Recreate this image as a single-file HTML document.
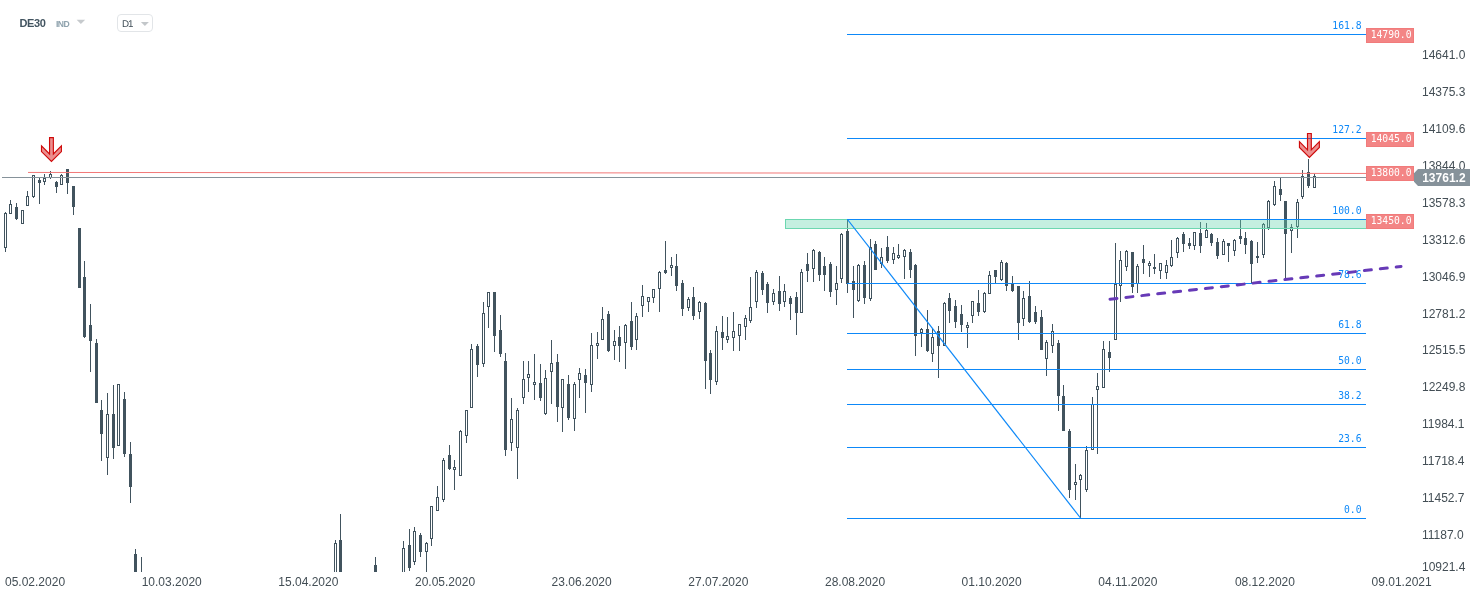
<!DOCTYPE html>
<html><head><meta charset="utf-8"><title>DE30 D1</title>
<style>
html,body{margin:0;padding:0;background:#fff;}
body{width:1482px;height:598px;overflow:hidden;position:relative;font-family:"Liberation Sans",Arial,sans-serif;}
#chart{position:absolute;left:0;top:0;will-change:transform;}
.tf{position:absolute;left:117px;top:14px;width:34px;height:16px;border:1px solid #e2e5e8;border-radius:4px;}
</style></head>
<body>
<svg id="chart" width="1482" height="598" viewBox="0 0 1482 598">
<defs><clipPath id="plot"><rect x="0" y="0" width="1366" height="572"/></clipPath></defs>
<g clip-path="url(#plot)" fill="#41535e" shape-rendering="crispEdges">
<rect x="5" y="212" width="1" height="1"/>
<rect x="5" y="248" width="1" height="4"/>
<path d="M4 213h3v35h-3zM5 214v33h1v-33z" fill-rule="evenodd"/>
<rect x="10" y="200" width="1" height="4"/>
<path d="M9 204h3v10h-3zM10 205v8h1v-8z" fill-rule="evenodd"/>
<rect x="16" y="203" width="1" height="4"/>
<rect x="16" y="219" width="1" height="1"/>
<rect x="15" y="207" width="3" height="12"/>
<path d="M21 210h3v14h-3zM22 211v12h1v-12z" fill-rule="evenodd"/>
<rect x="27" y="191" width="1" height="5"/>
<path d="M26 196h3v10h-3zM27 197v8h1v-8z" fill-rule="evenodd"/>
<rect x="33" y="197" width="1" height="1"/>
<path d="M32 175h3v22h-3zM33 176v20h1v-20z" fill-rule="evenodd"/>
<rect x="39" y="178" width="1" height="2"/>
<rect x="39" y="183" width="1" height="21"/>
<rect x="38" y="180" width="3" height="3"/>
<rect x="44" y="174" width="1" height="4"/>
<rect x="44" y="182" width="1" height="3"/>
<path d="M43 178h3v4h-3zM44 179v2h1v-2z" fill-rule="evenodd"/>
<rect x="50" y="171" width="1" height="3"/>
<rect x="50" y="178" width="1" height="1"/>
<path d="M49 174h3v4h-3zM50 175v2h1v-2z" fill-rule="evenodd"/>
<rect x="56" y="181" width="1" height="1"/>
<rect x="56" y="187" width="1" height="6"/>
<rect x="55" y="182" width="3" height="5"/>
<rect x="61" y="174" width="1" height="1"/>
<path d="M60 175h3v10h-3zM61 176v8h1v-8z" fill-rule="evenodd"/>
<rect x="67" y="183" width="1" height="11"/>
<rect x="66" y="169" width="3" height="14"/>
<rect x="73" y="207" width="1" height="8"/>
<rect x="72" y="186" width="3" height="21"/>
<rect x="78" y="228" width="3" height="60"/>
<rect x="84" y="261" width="1" height="16"/>
<rect x="84" y="337" width="1" height="1"/>
<rect x="83" y="277" width="3" height="60"/>
<rect x="90" y="304" width="1" height="21"/>
<rect x="90" y="341" width="1" height="31"/>
<rect x="89" y="325" width="3" height="16"/>
<rect x="96" y="339" width="1" height="4"/>
<rect x="95" y="343" width="3" height="60"/>
<rect x="101" y="400" width="1" height="10"/>
<rect x="101" y="434" width="1" height="27"/>
<rect x="100" y="410" width="3" height="24"/>
<rect x="107" y="393" width="1" height="21"/>
<rect x="107" y="458" width="1" height="17"/>
<path d="M106 414h3v44h-3zM107 415v42h1v-42z" fill-rule="evenodd"/>
<rect x="113" y="385" width="1" height="29"/>
<rect x="113" y="448" width="1" height="11"/>
<rect x="112" y="414" width="3" height="34"/>
<path d="M117 384h3v62h-3zM118 385v60h1v-60z" fill-rule="evenodd"/>
<rect x="124" y="392" width="1" height="7"/>
<rect x="124" y="454" width="1" height="3"/>
<rect x="123" y="399" width="3" height="55"/>
<rect x="130" y="442" width="1" height="12"/>
<rect x="130" y="487" width="1" height="16"/>
<rect x="129" y="454" width="3" height="33"/>
<rect x="135" y="549" width="1" height="5"/>
<rect x="134" y="554" width="3" height="26"/>
<rect x="141" y="557" width="1" height="43"/>
<rect x="140" y="600" width="3" height="1"/>
<rect x="335" y="540" width="1" height="3"/>
<path d="M334 543h3v37h-3zM335 544v35h1v-35z" fill-rule="evenodd"/>
<rect x="340" y="514" width="1" height="26"/>
<rect x="339" y="540" width="3" height="40"/>
<rect x="375" y="557" width="1" height="8"/>
<rect x="374" y="565" width="3" height="15"/>
<rect x="403" y="541" width="1" height="7"/>
<path d="M402 548h3v32h-3zM403 549v30h1v-30z" fill-rule="evenodd"/>
<rect x="409" y="529" width="1" height="16"/>
<rect x="409" y="568" width="1" height="3"/>
<rect x="408" y="545" width="3" height="23"/>
<rect x="414" y="527" width="1" height="4"/>
<rect x="414" y="562" width="1" height="3"/>
<path d="M413 531h3v31h-3zM414 532v29h1v-29z" fill-rule="evenodd"/>
<rect x="420" y="533" width="1" height="2"/>
<rect x="420" y="552" width="1" height="5"/>
<rect x="419" y="535" width="3" height="17"/>
<rect x="426" y="542" width="1" height="1"/>
<rect x="426" y="552" width="1" height="20"/>
<path d="M425 543h3v9h-3zM426 544v7h1v-7z" fill-rule="evenodd"/>
<rect x="431" y="539" width="1" height="7"/>
<path d="M430 506h3v33h-3zM431 507v31h1v-31z" fill-rule="evenodd"/>
<rect x="437" y="486" width="1" height="11"/>
<path d="M436 497h3v14h-3zM437 498v12h1v-12z" fill-rule="evenodd"/>
<rect x="443" y="458" width="1" height="2"/>
<rect x="443" y="500" width="1" height="2"/>
<path d="M442 460h3v40h-3zM443 461v38h1v-38z" fill-rule="evenodd"/>
<rect x="449" y="445" width="1" height="10"/>
<rect x="449" y="469" width="1" height="1"/>
<rect x="448" y="455" width="3" height="14"/>
<rect x="454" y="460" width="1" height="7"/>
<rect x="454" y="470" width="1" height="20"/>
<path d="M453 467h3v3h-3zM454 468v1h1v-1z" fill-rule="evenodd"/>
<rect x="460" y="430" width="1" height="1"/>
<path d="M459 431h3v45h-3zM460 432v43h1v-43z" fill-rule="evenodd"/>
<rect x="466" y="436" width="1" height="7"/>
<path d="M465 410h3v26h-3zM466 411v24h1v-24z" fill-rule="evenodd"/>
<rect x="471" y="344" width="1" height="5"/>
<path d="M470 349h3v59h-3zM471 350v57h1v-57z" fill-rule="evenodd"/>
<rect x="477" y="344" width="1" height="2"/>
<rect x="477" y="365" width="1" height="12"/>
<rect x="476" y="346" width="3" height="19"/>
<rect x="483" y="302" width="1" height="11"/>
<rect x="483" y="364" width="1" height="3"/>
<path d="M482 313h3v51h-3zM483 314v49h1v-49z" fill-rule="evenodd"/>
<rect x="488" y="307" width="1" height="21"/>
<path d="M487 292h3v15h-3zM488 293v13h1v-13z" fill-rule="evenodd"/>
<rect x="494" y="336" width="1" height="16"/>
<rect x="493" y="292" width="3" height="44"/>
<rect x="500" y="315" width="1" height="15"/>
<rect x="500" y="354" width="1" height="3"/>
<rect x="499" y="330" width="3" height="24"/>
<rect x="505" y="353" width="1" height="8"/>
<rect x="505" y="450" width="1" height="6"/>
<rect x="504" y="361" width="3" height="89"/>
<rect x="511" y="398" width="1" height="21"/>
<rect x="511" y="443" width="1" height="8"/>
<path d="M510 419h3v24h-3zM511 420v22h1v-22z" fill-rule="evenodd"/>
<rect x="517" y="408" width="1" height="2"/>
<rect x="517" y="448" width="1" height="31"/>
<path d="M516 410h3v38h-3zM517 411v36h1v-36z" fill-rule="evenodd"/>
<rect x="523" y="361" width="1" height="18"/>
<rect x="523" y="398" width="1" height="6"/>
<path d="M522 379h3v19h-3zM523 380v17h1v-17z" fill-rule="evenodd"/>
<rect x="528" y="361" width="1" height="13"/>
<rect x="528" y="378" width="1" height="14"/>
<path d="M527 374h3v4h-3zM528 375v2h1v-2z" fill-rule="evenodd"/>
<rect x="534" y="354" width="1" height="28"/>
<rect x="534" y="385" width="1" height="15"/>
<path d="M533 382h3v3h-3zM534 383v1h1v-1z" fill-rule="evenodd"/>
<rect x="540" y="364" width="1" height="19"/>
<rect x="540" y="398" width="1" height="3"/>
<rect x="539" y="383" width="3" height="15"/>
<rect x="545" y="370" width="1" height="8"/>
<rect x="545" y="414" width="1" height="1"/>
<path d="M544 378h3v36h-3zM545 379v34h1v-34z" fill-rule="evenodd"/>
<rect x="551" y="340" width="1" height="23"/>
<rect x="551" y="372" width="1" height="32"/>
<path d="M550 363h3v9h-3zM551 364v7h1v-7z" fill-rule="evenodd"/>
<rect x="557" y="354" width="1" height="8"/>
<rect x="557" y="407" width="1" height="15"/>
<rect x="556" y="362" width="3" height="45"/>
<rect x="562" y="408" width="1" height="24"/>
<path d="M561 379h3v29h-3zM562 380v27h1v-27z" fill-rule="evenodd"/>
<rect x="568" y="375" width="1" height="9"/>
<rect x="568" y="418" width="1" height="2"/>
<rect x="567" y="384" width="3" height="34"/>
<rect x="574" y="382" width="1" height="2"/>
<rect x="574" y="419" width="1" height="12"/>
<path d="M573 384h3v35h-3zM574 385v33h1v-33z" fill-rule="evenodd"/>
<rect x="579" y="368" width="1" height="5"/>
<rect x="579" y="380" width="1" height="18"/>
<path d="M578 373h3v7h-3zM579 374v5h1v-5z" fill-rule="evenodd"/>
<rect x="585" y="369" width="1" height="6"/>
<rect x="585" y="383" width="1" height="30"/>
<rect x="584" y="375" width="3" height="8"/>
<rect x="591" y="333" width="1" height="12"/>
<rect x="591" y="385" width="1" height="7"/>
<path d="M590 345h3v40h-3zM591 346v38h1v-38z" fill-rule="evenodd"/>
<rect x="597" y="332" width="1" height="11"/>
<rect x="597" y="346" width="1" height="13"/>
<path d="M596 343h3v3h-3zM597 344v1h1v-1z" fill-rule="evenodd"/>
<rect x="602" y="307" width="1" height="12"/>
<path d="M601 319h3v21h-3zM602 320v19h1v-19z" fill-rule="evenodd"/>
<rect x="608" y="311" width="1" height="3"/>
<rect x="608" y="351" width="1" height="1"/>
<rect x="607" y="314" width="3" height="37"/>
<rect x="614" y="330" width="1" height="11"/>
<rect x="614" y="346" width="1" height="14"/>
<path d="M613 341h3v5h-3zM614 342v3h1v-3z" fill-rule="evenodd"/>
<rect x="619" y="326" width="1" height="11"/>
<rect x="619" y="346" width="1" height="16"/>
<rect x="618" y="337" width="3" height="9"/>
<rect x="625" y="324" width="1" height="1"/>
<rect x="625" y="343" width="1" height="26"/>
<path d="M624 325h3v18h-3zM625 326v16h1v-16z" fill-rule="evenodd"/>
<rect x="631" y="302" width="1" height="19"/>
<rect x="631" y="347" width="1" height="3"/>
<rect x="630" y="321" width="3" height="26"/>
<rect x="636" y="313" width="1" height="3"/>
<rect x="636" y="340" width="1" height="10"/>
<path d="M635 316h3v24h-3zM636 317v22h1v-22z" fill-rule="evenodd"/>
<rect x="642" y="285" width="1" height="11"/>
<rect x="642" y="306" width="1" height="11"/>
<path d="M641 296h3v10h-3zM642 297v8h1v-8z" fill-rule="evenodd"/>
<rect x="648" y="302" width="1" height="10"/>
<path d="M647 297h3v5h-3zM648 298v3h1v-3z" fill-rule="evenodd"/>
<rect x="653" y="298" width="1" height="5"/>
<path d="M652 289h3v9h-3zM653 290v7h1v-7z" fill-rule="evenodd"/>
<rect x="659" y="271" width="1" height="1"/>
<rect x="659" y="289" width="1" height="23"/>
<path d="M658 272h3v17h-3zM659 273v15h1v-15z" fill-rule="evenodd"/>
<rect x="665" y="241" width="1" height="29"/>
<rect x="665" y="273" width="1" height="1"/>
<rect x="664" y="270" width="3" height="3"/>
<rect x="671" y="257" width="1" height="8"/>
<rect x="671" y="268" width="1" height="8"/>
<path d="M670 265h3v3h-3zM671 266v1h1v-1z" fill-rule="evenodd"/>
<rect x="676" y="254" width="1" height="12"/>
<rect x="676" y="286" width="1" height="5"/>
<rect x="675" y="266" width="3" height="20"/>
<rect x="682" y="280" width="1" height="3"/>
<rect x="682" y="309" width="1" height="7"/>
<rect x="681" y="283" width="3" height="26"/>
<rect x="688" y="297" width="1" height="2"/>
<rect x="688" y="308" width="1" height="3"/>
<path d="M687 299h3v9h-3zM688 300v7h1v-7z" fill-rule="evenodd"/>
<rect x="693" y="287" width="1" height="10"/>
<rect x="693" y="316" width="1" height="4"/>
<rect x="692" y="297" width="3" height="19"/>
<rect x="699" y="301" width="1" height="1"/>
<rect x="699" y="312" width="1" height="7"/>
<path d="M698 302h3v10h-3zM699 303v8h1v-8z" fill-rule="evenodd"/>
<rect x="705" y="302" width="1" height="1"/>
<rect x="705" y="361" width="1" height="28"/>
<rect x="704" y="303" width="3" height="58"/>
<rect x="710" y="350" width="1" height="3"/>
<rect x="710" y="380" width="1" height="14"/>
<rect x="709" y="353" width="3" height="27"/>
<rect x="716" y="326" width="1" height="5"/>
<rect x="716" y="382" width="1" height="3"/>
<path d="M715 331h3v51h-3zM716 332v49h1v-49z" fill-rule="evenodd"/>
<rect x="722" y="316" width="1" height="16"/>
<rect x="722" y="338" width="1" height="12"/>
<rect x="721" y="332" width="3" height="6"/>
<rect x="727" y="317" width="1" height="19"/>
<rect x="727" y="340" width="1" height="3"/>
<path d="M726 336h3v4h-3zM727 337v2h1v-2z" fill-rule="evenodd"/>
<rect x="733" y="312" width="1" height="19"/>
<rect x="733" y="338" width="1" height="13"/>
<path d="M732 331h3v7h-3zM733 332v5h1v-5z" fill-rule="evenodd"/>
<rect x="739" y="336" width="1" height="15"/>
<path d="M738 324h3v12h-3zM739 325v10h1v-10z" fill-rule="evenodd"/>
<rect x="745" y="315" width="1" height="3"/>
<rect x="745" y="327" width="1" height="13"/>
<path d="M744 318h3v9h-3zM745 319v7h1v-7z" fill-rule="evenodd"/>
<rect x="750" y="277" width="1" height="30"/>
<rect x="750" y="321" width="1" height="2"/>
<path d="M749 307h3v14h-3zM750 308v12h1v-12z" fill-rule="evenodd"/>
<rect x="756" y="270" width="1" height="2"/>
<rect x="756" y="302" width="1" height="6"/>
<path d="M755 272h3v30h-3zM756 273v28h1v-28z" fill-rule="evenodd"/>
<rect x="762" y="271" width="1" height="2"/>
<rect x="762" y="290" width="1" height="5"/>
<rect x="761" y="273" width="3" height="17"/>
<rect x="767" y="282" width="1" height="2"/>
<rect x="767" y="303" width="1" height="10"/>
<rect x="766" y="284" width="3" height="19"/>
<rect x="773" y="289" width="1" height="4"/>
<rect x="773" y="302" width="1" height="3"/>
<path d="M772 293h3v9h-3zM773 294v7h1v-7z" fill-rule="evenodd"/>
<rect x="779" y="276" width="1" height="15"/>
<rect x="779" y="304" width="1" height="7"/>
<rect x="778" y="291" width="3" height="13"/>
<rect x="784" y="284" width="1" height="7"/>
<rect x="784" y="302" width="1" height="5"/>
<path d="M783 291h3v11h-3zM784 292v9h1v-9z" fill-rule="evenodd"/>
<rect x="790" y="296" width="1" height="2"/>
<rect x="790" y="304" width="1" height="16"/>
<rect x="789" y="298" width="3" height="6"/>
<rect x="796" y="292" width="1" height="5"/>
<rect x="796" y="313" width="1" height="22"/>
<rect x="795" y="297" width="3" height="16"/>
<rect x="801" y="269" width="1" height="3"/>
<path d="M800 272h3v41h-3zM801 273v39h1v-39z" fill-rule="evenodd"/>
<rect x="807" y="253" width="1" height="11"/>
<rect x="807" y="271" width="1" height="11"/>
<rect x="806" y="264" width="3" height="7"/>
<rect x="813" y="249" width="1" height="1"/>
<rect x="813" y="269" width="1" height="13"/>
<path d="M812 250h3v19h-3zM813 251v17h1v-17z" fill-rule="evenodd"/>
<rect x="819" y="251" width="1" height="1"/>
<rect x="819" y="275" width="1" height="6"/>
<rect x="818" y="252" width="3" height="23"/>
<rect x="824" y="257" width="1" height="9"/>
<rect x="824" y="275" width="1" height="16"/>
<rect x="823" y="266" width="3" height="9"/>
<rect x="830" y="262" width="1" height="2"/>
<rect x="830" y="292" width="1" height="5"/>
<rect x="829" y="264" width="3" height="28"/>
<rect x="836" y="266" width="1" height="17"/>
<rect x="836" y="290" width="1" height="15"/>
<path d="M835 283h3v7h-3zM836 284v5h1v-5z" fill-rule="evenodd"/>
<rect x="841" y="233" width="1" height="1"/>
<rect x="841" y="279" width="1" height="4"/>
<path d="M840 234h3v45h-3zM841 235v43h1v-43z" fill-rule="evenodd"/>
<rect x="847" y="219" width="1" height="12"/>
<rect x="847" y="284" width="1" height="9"/>
<rect x="846" y="231" width="3" height="53"/>
<rect x="853" y="266" width="1" height="15"/>
<rect x="853" y="290" width="1" height="28"/>
<rect x="852" y="281" width="3" height="9"/>
<rect x="858" y="264" width="1" height="1"/>
<rect x="858" y="301" width="1" height="1"/>
<path d="M857 265h3v36h-3zM858 266v34h1v-34z" fill-rule="evenodd"/>
<rect x="864" y="261" width="1" height="4"/>
<rect x="864" y="298" width="1" height="6"/>
<rect x="863" y="265" width="3" height="33"/>
<rect x="870" y="239" width="1" height="8"/>
<rect x="870" y="299" width="1" height="2"/>
<path d="M869 247h3v52h-3zM870 248v50h1v-50z" fill-rule="evenodd"/>
<rect x="875" y="241" width="1" height="3"/>
<rect x="874" y="244" width="3" height="26"/>
<rect x="881" y="248" width="1" height="9"/>
<rect x="881" y="264" width="1" height="4"/>
<path d="M880 257h3v7h-3zM881 258v5h1v-5z" fill-rule="evenodd"/>
<rect x="887" y="236" width="1" height="11"/>
<rect x="887" y="261" width="1" height="2"/>
<rect x="886" y="247" width="3" height="14"/>
<rect x="893" y="247" width="1" height="6"/>
<rect x="893" y="260" width="1" height="4"/>
<path d="M892 253h3v7h-3zM893 254v5h1v-5z" fill-rule="evenodd"/>
<rect x="898" y="244" width="1" height="11"/>
<rect x="898" y="258" width="1" height="1"/>
<path d="M897 255h3v3h-3zM898 256v1h1v-1z" fill-rule="evenodd"/>
<rect x="904" y="249" width="1" height="1"/>
<rect x="904" y="257" width="1" height="22"/>
<path d="M903 250h3v7h-3zM904 251v5h1v-5z" fill-rule="evenodd"/>
<rect x="910" y="249" width="1" height="3"/>
<rect x="910" y="270" width="1" height="8"/>
<rect x="909" y="252" width="3" height="18"/>
<rect x="915" y="264" width="1" height="1"/>
<rect x="915" y="336" width="1" height="20"/>
<rect x="914" y="265" width="3" height="71"/>
<rect x="921" y="328" width="1" height="1"/>
<rect x="921" y="333" width="1" height="14"/>
<path d="M920 329h3v4h-3zM921 330v2h1v-2z" fill-rule="evenodd"/>
<rect x="927" y="310" width="1" height="19"/>
<rect x="927" y="351" width="1" height="1"/>
<rect x="926" y="329" width="3" height="22"/>
<rect x="932" y="328" width="1" height="9"/>
<rect x="932" y="354" width="1" height="8"/>
<path d="M931 337h3v17h-3zM932 338v15h1v-15z" fill-rule="evenodd"/>
<rect x="938" y="326" width="1" height="5"/>
<rect x="938" y="346" width="1" height="32"/>
<rect x="937" y="331" width="3" height="15"/>
<rect x="944" y="302" width="1" height="1"/>
<path d="M943 303h3v43h-3zM944 304v41h1v-41z" fill-rule="evenodd"/>
<rect x="949" y="293" width="1" height="5"/>
<rect x="949" y="311" width="1" height="12"/>
<rect x="948" y="298" width="3" height="13"/>
<rect x="955" y="300" width="1" height="6"/>
<rect x="955" y="322" width="1" height="6"/>
<rect x="954" y="306" width="3" height="16"/>
<rect x="961" y="305" width="1" height="9"/>
<rect x="961" y="325" width="1" height="7"/>
<rect x="960" y="314" width="3" height="11"/>
<rect x="967" y="322" width="1" height="3"/>
<rect x="967" y="328" width="1" height="20"/>
<path d="M966 325h3v3h-3zM967 326v1h1v-1z" fill-rule="evenodd"/>
<rect x="972" y="316" width="1" height="7"/>
<path d="M971 301h3v15h-3zM972 302v13h1v-13z" fill-rule="evenodd"/>
<rect x="978" y="290" width="1" height="13"/>
<rect x="978" y="312" width="1" height="4"/>
<rect x="977" y="303" width="3" height="9"/>
<rect x="984" y="292" width="1" height="1"/>
<rect x="984" y="312" width="1" height="1"/>
<path d="M983 293h3v19h-3zM984 294v17h1v-17z" fill-rule="evenodd"/>
<rect x="989" y="271" width="1" height="4"/>
<path d="M988 275h3v19h-3zM989 276v17h1v-17z" fill-rule="evenodd"/>
<rect x="995" y="277" width="1" height="6"/>
<rect x="994" y="270" width="3" height="7"/>
<rect x="1001" y="260" width="1" height="2"/>
<rect x="1001" y="280" width="1" height="1"/>
<path d="M1000 262h3v18h-3zM1001 263v16h1v-16z" fill-rule="evenodd"/>
<rect x="1006" y="262" width="1" height="1"/>
<rect x="1006" y="286" width="1" height="5"/>
<rect x="1005" y="263" width="3" height="23"/>
<rect x="1012" y="276" width="1" height="8"/>
<rect x="1012" y="291" width="1" height="1"/>
<rect x="1011" y="284" width="3" height="7"/>
<rect x="1018" y="323" width="1" height="17"/>
<rect x="1017" y="286" width="3" height="37"/>
<rect x="1023" y="291" width="1" height="7"/>
<rect x="1023" y="319" width="1" height="7"/>
<path d="M1022 298h3v21h-3zM1023 299v19h1v-19z" fill-rule="evenodd"/>
<rect x="1029" y="281" width="1" height="15"/>
<rect x="1029" y="322" width="1" height="1"/>
<rect x="1028" y="296" width="3" height="26"/>
<rect x="1035" y="306" width="1" height="6"/>
<rect x="1035" y="322" width="1" height="2"/>
<rect x="1034" y="312" width="3" height="10"/>
<rect x="1041" y="310" width="1" height="7"/>
<rect x="1040" y="317" width="3" height="33"/>
<rect x="1046" y="340" width="1" height="2"/>
<rect x="1046" y="359" width="1" height="17"/>
<path d="M1045 342h3v17h-3zM1046 343v15h1v-15z" fill-rule="evenodd"/>
<rect x="1052" y="324" width="1" height="7"/>
<rect x="1052" y="346" width="1" height="7"/>
<path d="M1051 331h3v15h-3zM1052 332v13h1v-13z" fill-rule="evenodd"/>
<rect x="1058" y="340" width="1" height="3"/>
<rect x="1058" y="396" width="1" height="15"/>
<rect x="1057" y="343" width="3" height="53"/>
<rect x="1063" y="385" width="1" height="11"/>
<rect x="1062" y="396" width="3" height="35"/>
<rect x="1069" y="429" width="1" height="2"/>
<rect x="1069" y="490" width="1" height="8"/>
<rect x="1068" y="431" width="3" height="59"/>
<rect x="1075" y="464" width="1" height="18"/>
<rect x="1075" y="485" width="1" height="15"/>
<path d="M1074 482h3v3h-3zM1075 483v1h1v-1z" fill-rule="evenodd"/>
<rect x="1080" y="474" width="1" height="1"/>
<rect x="1080" y="480" width="1" height="38"/>
<path d="M1079 475h3v5h-3zM1080 476v3h1v-3z" fill-rule="evenodd"/>
<rect x="1086" y="446" width="1" height="4"/>
<rect x="1086" y="490" width="1" height="2"/>
<path d="M1085 450h3v40h-3zM1086 451v38h1v-38z" fill-rule="evenodd"/>
<rect x="1092" y="397" width="1" height="7"/>
<path d="M1091 404h3v46h-3zM1092 405v44h1v-44z" fill-rule="evenodd"/>
<rect x="1097" y="373" width="1" height="13"/>
<rect x="1097" y="390" width="1" height="64"/>
<path d="M1096 386h3v4h-3zM1097 387v2h1v-2z" fill-rule="evenodd"/>
<rect x="1103" y="341" width="1" height="8"/>
<path d="M1102 349h3v39h-3zM1103 350v37h1v-37z" fill-rule="evenodd"/>
<rect x="1109" y="341" width="1" height="11"/>
<rect x="1109" y="358" width="1" height="14"/>
<rect x="1108" y="352" width="3" height="6"/>
<rect x="1115" y="243" width="1" height="41"/>
<path d="M1114 284h3v56h-3zM1115 285v54h1v-54z" fill-rule="evenodd"/>
<rect x="1120" y="251" width="1" height="9"/>
<rect x="1120" y="286" width="1" height="16"/>
<path d="M1119 260h3v26h-3zM1120 261v24h1v-24z" fill-rule="evenodd"/>
<rect x="1126" y="250" width="1" height="1"/>
<rect x="1126" y="267" width="1" height="4"/>
<path d="M1125 251h3v16h-3zM1126 252v14h1v-14z" fill-rule="evenodd"/>
<rect x="1132" y="287" width="1" height="6"/>
<rect x="1131" y="252" width="3" height="35"/>
<rect x="1137" y="264" width="1" height="2"/>
<rect x="1137" y="284" width="1" height="9"/>
<path d="M1136 266h3v18h-3zM1137 267v16h1v-16z" fill-rule="evenodd"/>
<rect x="1143" y="245" width="1" height="14"/>
<rect x="1143" y="263" width="1" height="11"/>
<rect x="1142" y="259" width="3" height="4"/>
<rect x="1149" y="261" width="1" height="2"/>
<rect x="1149" y="266" width="1" height="11"/>
<path d="M1148 263h3v3h-3zM1149 264v1h1v-1z" fill-rule="evenodd"/>
<rect x="1154" y="254" width="1" height="13"/>
<rect x="1154" y="269" width="1" height="5"/>
<rect x="1153" y="267" width="3" height="2"/>
<rect x="1160" y="271" width="1" height="8"/>
<path d="M1159 263h3v8h-3zM1160 264v6h1v-6z" fill-rule="evenodd"/>
<rect x="1166" y="260" width="1" height="5"/>
<rect x="1166" y="273" width="1" height="6"/>
<path d="M1165 265h3v8h-3zM1166 266v6h1v-6z" fill-rule="evenodd"/>
<rect x="1171" y="240" width="1" height="17"/>
<rect x="1171" y="266" width="1" height="1"/>
<path d="M1170 257h3v9h-3zM1171 258v7h1v-7z" fill-rule="evenodd"/>
<rect x="1177" y="237" width="1" height="1"/>
<rect x="1177" y="253" width="1" height="5"/>
<path d="M1176 238h3v15h-3zM1177 239v13h1v-13z" fill-rule="evenodd"/>
<rect x="1183" y="232" width="1" height="2"/>
<rect x="1183" y="244" width="1" height="8"/>
<rect x="1182" y="234" width="3" height="10"/>
<rect x="1189" y="238" width="1" height="5"/>
<rect x="1189" y="246" width="1" height="3"/>
<rect x="1188" y="243" width="3" height="3"/>
<rect x="1194" y="246" width="1" height="4"/>
<path d="M1193 232h3v14h-3zM1194 233v12h1v-12z" fill-rule="evenodd"/>
<rect x="1200" y="222" width="1" height="11"/>
<rect x="1200" y="246" width="1" height="7"/>
<rect x="1199" y="233" width="3" height="13"/>
<rect x="1206" y="223" width="1" height="7"/>
<path d="M1205 230h3v8h-3zM1206 231v6h1v-6z" fill-rule="evenodd"/>
<rect x="1211" y="233" width="1" height="1"/>
<rect x="1211" y="243" width="1" height="3"/>
<rect x="1210" y="234" width="3" height="9"/>
<rect x="1217" y="238" width="1" height="4"/>
<rect x="1217" y="256" width="1" height="3"/>
<rect x="1216" y="242" width="3" height="14"/>
<rect x="1223" y="239" width="1" height="2"/>
<path d="M1222 241h3v14h-3zM1223 242v12h1v-12z" fill-rule="evenodd"/>
<rect x="1228" y="246" width="1" height="16"/>
<rect x="1227" y="243" width="3" height="3"/>
<rect x="1234" y="239" width="1" height="1"/>
<rect x="1234" y="251" width="1" height="5"/>
<path d="M1233 240h3v11h-3zM1234 241v9h1v-9z" fill-rule="evenodd"/>
<rect x="1240" y="220" width="1" height="16"/>
<rect x="1240" y="239" width="1" height="5"/>
<rect x="1239" y="236" width="3" height="3"/>
<rect x="1245" y="232" width="1" height="6"/>
<rect x="1245" y="245" width="1" height="9"/>
<rect x="1244" y="238" width="3" height="7"/>
<rect x="1251" y="240" width="1" height="1"/>
<rect x="1251" y="264" width="1" height="19"/>
<rect x="1250" y="241" width="3" height="23"/>
<rect x="1257" y="242" width="1" height="14"/>
<rect x="1257" y="258" width="1" height="5"/>
<rect x="1256" y="256" width="3" height="2"/>
<rect x="1263" y="223" width="1" height="1"/>
<rect x="1263" y="255" width="1" height="3"/>
<path d="M1262 224h3v31h-3zM1263 225v29h1v-29z" fill-rule="evenodd"/>
<rect x="1268" y="200" width="1" height="1"/>
<rect x="1268" y="228" width="1" height="2"/>
<path d="M1267 201h3v27h-3zM1268 202v25h1v-25z" fill-rule="evenodd"/>
<rect x="1274" y="181" width="1" height="5"/>
<rect x="1274" y="205" width="1" height="1"/>
<path d="M1273 186h3v19h-3zM1274 187v17h1v-17z" fill-rule="evenodd"/>
<rect x="1280" y="178" width="1" height="11"/>
<rect x="1280" y="195" width="1" height="6"/>
<rect x="1279" y="189" width="3" height="6"/>
<rect x="1285" y="234" width="1" height="44"/>
<rect x="1284" y="201" width="3" height="33"/>
<rect x="1291" y="224" width="1" height="3"/>
<rect x="1291" y="231" width="1" height="22"/>
<path d="M1290 227h3v4h-3zM1291 228v2h1v-2z" fill-rule="evenodd"/>
<rect x="1297" y="199" width="1" height="3"/>
<rect x="1297" y="227" width="1" height="11"/>
<path d="M1296 202h3v25h-3zM1297 203v23h1v-23z" fill-rule="evenodd"/>
<rect x="1302" y="170" width="1" height="6"/>
<rect x="1302" y="197" width="1" height="2"/>
<path d="M1301 176h3v21h-3zM1302 177v19h1v-19z" fill-rule="evenodd"/>
<rect x="1308" y="159" width="1" height="13"/>
<rect x="1308" y="186" width="1" height="2"/>
<rect x="1307" y="172" width="3" height="14"/>
<rect x="1314" y="174" width="1" height="2"/>
<path d="M1313 176h3v12h-3zM1314 177v10h1v-10z" fill-rule="evenodd"/>
</g>
<g shape-rendering="crispEdges">
<rect x="785.5" y="219.5" width="600" height="9" fill="rgba(101,213,174,0.38)" stroke="#6cd7b0" stroke-width="1"/>
<rect x="2" y="177" width="1412" height="1" fill="#86929a"/>
<rect x="847" y="34" width="519" height="1" fill="#0d88f8"/>
<rect x="847" y="138" width="519" height="1" fill="#0d88f8"/>
<rect x="847" y="219" width="519" height="1" fill="#0d88f8"/>
<rect x="847" y="283" width="519" height="1" fill="#0d88f8"/>
<rect x="847" y="333" width="519" height="1" fill="#0d88f8"/>
<rect x="847" y="369" width="519" height="1" fill="#0d88f8"/>
<rect x="847" y="404" width="519" height="1" fill="#0d88f8"/>
<rect x="847" y="447" width="519" height="1" fill="#0d88f8"/>
<rect x="847" y="518" width="519" height="1" fill="#0d88f8"/>
</g>
<line x1="28" y1="172.45" x2="1366" y2="173.45" stroke="#f27878" stroke-width="1"/>
<line x1="847.5" y1="219.5" x2="1080.5" y2="518" stroke="#0d88f8" stroke-width="1.2"/>
<path d="M49.55 137.60 L53.35 137.60 L53.35 154.00 L61.40 145.80 L61.40 151.60 L51.45 161.50 L41.50 151.60 L41.50 145.80 L49.55 154.00 Z" fill="rgba(214,16,16,0.47)" stroke="#cf0a0a" stroke-width="1.15" stroke-linejoin="miter"/>
<path d="M1307.50 133.50 L1311.30 133.50 L1311.30 149.90 L1319.35 141.70 L1319.35 147.50 L1309.40 157.40 L1299.45 147.50 L1299.45 141.70 L1307.50 149.90 Z" fill="rgba(214,16,16,0.47)" stroke="#cf0a0a" stroke-width="1.15" stroke-linejoin="miter"/>
<g font-family="DejaVu Sans Mono, monospace" font-size="9.7" fill="#0d88f8">
<text x="1361.5" y="29" text-anchor="end">161.8</text>
<text x="1361.5" y="133" text-anchor="end">127.2</text>
<text x="1361.5" y="214" text-anchor="end">100.0</text>
<text x="1361.5" y="278" text-anchor="end">78.6</text>
<text x="1361.5" y="328" text-anchor="end">61.8</text>
<text x="1361.5" y="364" text-anchor="end">50.0</text>
<text x="1361.5" y="399" text-anchor="end">38.2</text>
<text x="1361.5" y="442" text-anchor="end">23.6</text>
<text x="1361.5" y="513" text-anchor="end">0.0</text>
</g>
<line x1="1110" y1="299.2" x2="1401" y2="266.5" stroke="#673ab7" stroke-width="3" stroke-dasharray="7 9" stroke-linecap="round"/>
<g font-family="DejaVu Sans Mono, monospace" font-size="9.7" fill="#fff">
<rect x="1366.5" y="28.5" width="47" height="14" fill="#f38585" stroke="#f17b7b" stroke-width="1"/>
<text x="1411.5" y="38.3" text-anchor="end">14790.0</text>
<rect x="1366.5" y="132.5" width="47" height="14" fill="#f38585" stroke="#f17b7b" stroke-width="1"/>
<text x="1411.5" y="142.3" text-anchor="end">14045.0</text>
<rect x="1366.5" y="166.5" width="47" height="14" fill="#f38585" stroke="#f17b7b" stroke-width="1"/>
<text x="1411.5" y="176.3" text-anchor="end">13800.0</text>
<rect x="1366.5" y="214.5" width="47" height="14" fill="#f38585" stroke="#f17b7b" stroke-width="1"/>
<text x="1411.5" y="224.3" text-anchor="end">13450.0</text>
</g>
<g font-family="Liberation Sans, Arial, sans-serif" font-size="12" fill="#434e55">
<text x="1422" y="58.8">14641.0</text>
<text x="1422" y="95.8">14375.3</text>
<text x="1422" y="132.7">14109.6</text>
<text x="1422" y="169.7">13844.0</text>
<text x="1422" y="206.6">13578.3</text>
<text x="1422" y="243.6">13312.6</text>
<text x="1422" y="280.5">13046.9</text>
<text x="1422" y="317.5">12781.2</text>
<text x="1422" y="354.4">12515.5</text>
<text x="1422" y="391.4">12249.8</text>
<text x="1422" y="428.3">11984.1</text>
<text x="1422" y="465.3">11718.4</text>
<text x="1422" y="502.2">11452.7</text>
<text x="1422" y="539.1">11187.0</text>
<text x="1422" y="570.7">10921.4</text>
<text x="5.0" y="585.9">05.02.2020</text>
<text x="141.7" y="585.9">10.03.2020</text>
<text x="278.3" y="585.9">15.04.2020</text>
<text x="415.0" y="585.9">20.05.2020</text>
<text x="551.6" y="585.9">23.06.2020</text>
<text x="688.3" y="585.9">27.07.2020</text>
<text x="825.0" y="585.9">28.08.2020</text>
<text x="961.6" y="585.9">01.10.2020</text>
<text x="1098.3" y="585.9">04.11.2020</text>
<text x="1234.9" y="585.9">08.12.2020</text>
<text x="1371.6" y="585.9">09.01.2021</text>
</g>
<path d="M1418 169 H1470 V186 H1418 L1414 181.8 V173.2 Z" fill="#86929a"/>
<text x="1422.2" y="181.9" font-family="Liberation Sans, Arial, sans-serif" font-size="12" font-weight="bold" fill="#fff">13761.2</text>
</svg>
<div class="tf"></div>
<svg style="position:absolute;left:0;top:0;will-change:transform" width="200" height="40">
<polygon points="76.6,19.8 85.2,19.8 80.9,24.1" fill="#c6cacd"/>
<polygon points="140.9,22 148.9,22 144.9,26" fill="#c3c7ca"/>
<text x="19.6" y="27" font-family="Liberation Sans, Arial, sans-serif" font-weight="bold" font-size="11" fill="#425460" letter-spacing="-0.45">DE30</text>
<text x="56" y="26.8" font-family="Liberation Sans, Arial, sans-serif" font-weight="bold" font-size="8.6" fill="#8ea2ad" letter-spacing="-0.6">IND</text>
<text x="121.9" y="27" font-family="Liberation Sans, Arial, sans-serif" font-size="9.8" fill="#3f4d56" text-rendering="geometricPrecision" letter-spacing="-0.9">D1</text>
</svg>
</body></html>
